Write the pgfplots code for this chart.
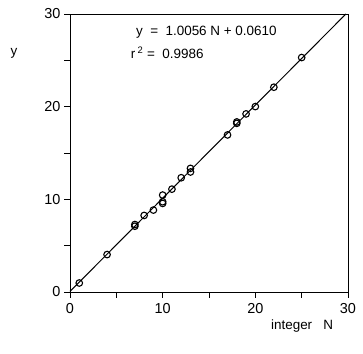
\documentclass[border=0pt]{standalone}
\usepackage{fontspec}
\setmainfont{Liberation Sans}
\usepackage{pgfplots}
\pgfplotsset{compat=1.18}
\begin{document}
\begin{tikzpicture}
\path[use as bounding box] (-70bp,-62bp) rectangle (293bp,292bp);
\begin{axis}[
  at={(0,0)}, anchor=origin,
  scale only axis, width=278bp, height=278bp,
  xmin=0, xmax=30, ymin=0, ymax=30,
  xtick={0,10,20,30}, ytick={0,10,20,30},
  minor xtick={5,15,25}, minor ytick={5,15,25},
  xtick pos=bottom, ytick pos=left,
  tick align=outside,
  major tick length=6bp, minor tick length=6bp,
  every tick/.style={black, line width=1pt},
  axis line style={line width=1pt},
  /pgf/number format/assume math mode=true,
  ticklabel style={font=\fontsize{14.5}{16}\selectfont},
  xticklabel style={yshift=-1.5bp},
  clip=false,
]
\addplot[black, line width=1pt] coordinates {(0,0.0610) (29.773,30)};
\addplot[only marks, mark=o, mark size=3.3bp, mark options={line width=1.1pt, black}] coordinates {
(1,0.97) (4,4.04) (7,7.28) (7,7.10) (8,8.26) (9,8.84) (10,10.46) (10,9.74) (10,9.56)
(11,11.10) (12,12.33) (13,13.34) (13,12.95) (17,16.95) (18,18.20) (18,18.35)
(19,19.22) (20,20.01) (22,22.10) (25,25.30)
};
\node[anchor=west, font=\fontsize{13.5}{15}\selectfont] at (axis cs:6.75,28.0) {y\ \ =\ \ 1.0056 N + 0.0610};
\node[anchor=west, font=\fontsize{13.5}{15}\selectfont] at (axis cs:6.2,25.8) {r\,\textsuperscript{2} =\ \ 0.9986};
\node[font=\fontsize{13.5}{15}\selectfont] at (axis cs:-6.05,25.8) {y};
\node[font=\fontsize{13.5}{15}\selectfont] at (axis cs:25.05,-3.65) {integer\ \ \ N};
\end{axis}
\end{tikzpicture}
\end{document}
